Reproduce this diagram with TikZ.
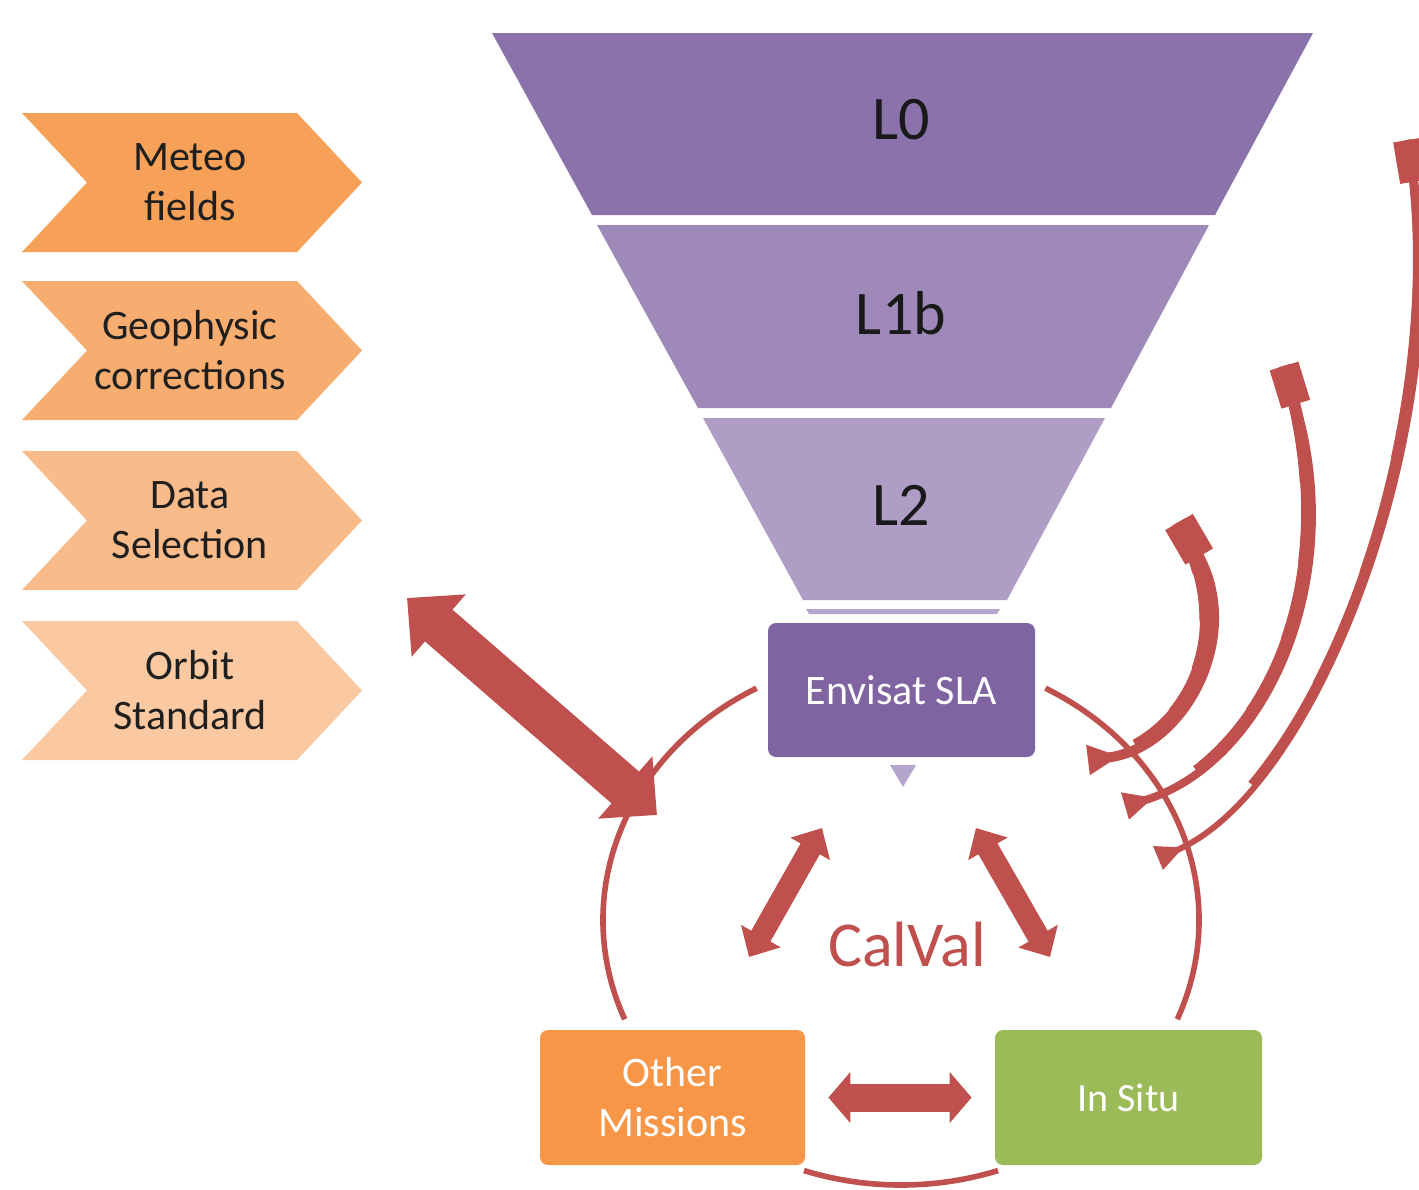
\documentclass[tikz,border=0pt]{standalone}
\usepackage{fontspec}
\setmainfont{Carlito}
\usetikzlibrary{arrows.meta}

\definecolor{funnelA}{RGB}{139,114,171}
\definecolor{funnelB}{RGB}{158,137,185}
\definecolor{funnelC}{RGB}{175,157,198}
\definecolor{funnelD}{RGB}{180,165,205}
\definecolor{slaColor}{RGB}{128,99,161}
\definecolor{calvalRed}{RGB}{192,80,77}
\definecolor{otherColor}{RGB}{247,150,70}
\definecolor{situColor}{RGB}{155,187,89}
\definecolor{chevA}{RGB}{247,160,87}
\definecolor{chevB}{RGB}{248,173,112}
\definecolor{chevC}{RGB}{249,187,138}
\definecolor{chevD}{RGB}{250,201,161}

\tikzset{
  levelText/.style={text=black!90,inner sep=0pt,font=\fontsize{31}{37}\selectfont},
  chevText/.style={text=black!88,inner sep=0pt,align=center,font=\fontsize{21}{25}\selectfont},
  boxNode/.style={rounded corners=4pt,inner sep=0pt,text=white,align=center,font=\fontsize{21}{25}\selectfont},
  ringArc/.style={draw=calvalRed,line width=2.8pt},
  bigArrow/.style={draw=calvalRed,line width=21pt,arrows={Triangle[width=40pt,length=21pt]-Triangle[width=40pt,length=21pt]}},
  midArrow/.style={draw=calvalRed,line width=11pt,arrows={Triangle[width=22pt,length=12pt]-Triangle[width=22pt,length=12pt]}},
  flatArrow/.style={draw=calvalRed,line width=14pt,arrows={Triangle[width=25pt,length=11pt]-Triangle[width=25pt,length=11pt]}},
  sweepArrow/.style={draw=calvalRed},
  sweepThick/.style={draw=calvalRed,dash pattern=on 0pt off #1 on 2000pt}
}

\begin{document}
\begin{tikzpicture}[x=0.5pt,y=-0.5pt]
\path[use as bounding box,fill=white] (0,0) rectangle (1419,1189);

% input chevrons
\foreach \ytop/\chcol/\chname/\chtxt in {113/chevA/meteo/{Meteo\\fields},
    281/chevB/geophys/{Geophysic\\corrections},
    451/chevC/datasel/{Data\\Selection},
    621/chevD/orbit/{Orbit\\Standard}}{
  \path[fill=\chcol] (22,\ytop) -- (297,\ytop) -- (362,\ytop+69.5) -- (297,\ytop+139)
    -- (22,\ytop+139) -- (87,\ytop+69.5) -- cycle;
  \node[chevText] (\chname) at (190,\ytop+69.5) {\chtxt};
}

% funnel
\path[fill=funnelA] (492,33) -- (1313,33) -- (1215,215) -- (592,215) -- cycle;
\path[fill=funnelB] (597,225) -- (1209,225) -- (1111,408) -- (698,408) -- cycle;
\path[fill=funnelC] (703,418) -- (1105,418) -- (1007,600) -- (803,600) -- cycle;
\path[fill=funnelD] (806,609) -- (1000,609) -- (997,614) -- (809,614) -- cycle;
\node[levelText] (lzero) at (901,120) {L0};
\node[levelText] (lone) at (901,313) {L1b};
\node[levelText] (ltwo) at (901,505) {L2};

\node[boxNode,fill=slaColor,minimum width=133.5pt,minimum height=67pt] (sla) at (901.5,690) {Envisat SLA};
\path[fill=funnelD] (890,765) -- (916,765) -- (903,787) -- cycle;

% calval ring
\coordinate (ring) at (901,920);
\draw[ringArc] (ring) ++(241:298 and 265) arc[start angle=241,end angle=158,x radius=298,y radius=265];
\draw[ringArc] (ring) ++(-61:298 and 265) arc[start angle=-61,end angle=22,x radius=298,y radius=265];
\draw[ringArc] (ring) ++(71:298 and 265) arc[start angle=71,end angle=109,x radius=298,y radius=265];

\node[boxNode,fill=otherColor,minimum width=132.5pt,minimum height=67.5pt] (other) at (672.5,1097.5) {Other\\Missions};
\node[boxNode,fill=situColor,minimum width=133.5pt,minimum height=67.5pt,font=\fontsize{20}{24}\selectfont] (insitu) at (1128.5,1097.5) {In Situ};
\node[text=calvalRed,inner sep=0pt,font=\fontsize{32}{38}\selectfont] (calval) at (907,945) {CalVal};

% arrows
\coordinate (chevTip) at (407,598);
\coordinate (ringWest) at (657,815);
\draw[bigArrow] (chevTip) -- (ringWest);

\coordinate (calTL) at (822,828);
\coordinate (calBL) at (749,957);
\coordinate (calTR) at (976,828);
\coordinate (calBR) at (1050,957);
\draw[midArrow] (calTL) -- (calBL);
\draw[midArrow] (calTR) -- (calBR);
\draw[flatArrow,shorten >=11.5pt,shorten <=11.5pt] (other) -- (insitu);

% feedback to the levels
\coordinate (tailA) at (1088,760);
\coordinate (headA) at (1179,522);
\coordinate (tailB) at (1125,806);
\coordinate (headB) at (1284,366);
\coordinate (tailC) at (1158,858);
\coordinate (headC) at (1408,140);
\foreach \off/\wd in {25pt/5.6pt,50pt/6.2pt,75pt/6.8pt,100pt/7.4pt,125pt/8pt}
  \draw[sweepThick=\off,line width=\wd] (tailA) .. controls (1185,748) and (1245,635) .. (headA);
\draw[sweepArrow,line width=5pt,arrows={Triangle[reversed,width=14pt,length=16pt]-Rectangle[width=16pt,length=20pt]}]
  (tailA) .. controls (1185,748) and (1245,635) .. (headA);
\foreach \off/\wd in {40pt/4.4pt,80pt/4.8pt,120pt/5.2pt,160pt/5.6pt,200pt/6pt}
  \draw[sweepThick=\off,line width=\wd] (tailB) .. controls (1265,765) and (1350,580) .. (headB);
\draw[sweepArrow,line width=4pt,arrows={Triangle[reversed,width=13pt,length=15pt]-Rectangle[width=15pt,length=20pt]}]
  (tailB) .. controls (1265,765) and (1350,580) .. (headB);
\foreach \off/\wd in {60pt/3.3pt,120pt/3.7pt,180pt/4.1pt,240pt/4.5pt}
  \draw[sweepThick=\off,line width=\wd] (tailC) .. controls (1320,790) and (1455,420) .. (headC);
\draw[sweepArrow,line width=3pt,arrows={Triangle[reversed,width=12pt,length=14pt]-Rectangle[width=15pt,length=21pt]}]
  (tailC) .. controls (1320,790) and (1455,420) .. (headC);
\end{tikzpicture}
\end{document}
